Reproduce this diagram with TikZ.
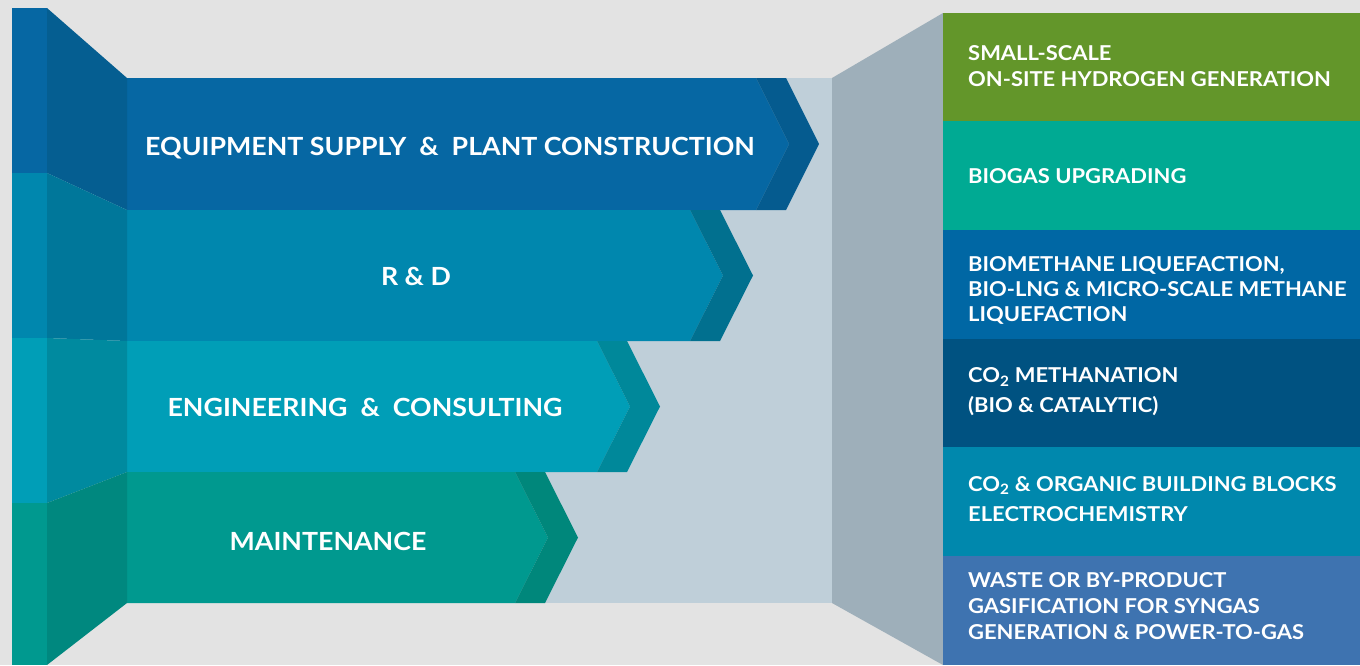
\documentclass[tikz,border=0pt]{standalone}
\usepackage{fontspec}
\setmainfont{Lato}
\newfontfamily\lblfont[FakeStretch=1.07]{Lato}
\definecolor{bg}{HTML}{E3E3E3}
\definecolor{wall}{HTML}{BFCFD9}
\definecolor{side}{HTML}{9EAFBA}
\definecolor{aL}{HTML}{0667A3}\definecolor{aD}{HTML}{055B8F}\definecolor{aP}{HTML}{055E91}
\definecolor{bL}{HTML}{0087AE}\definecolor{bD}{HTML}{01708F}\definecolor{bP}{HTML}{00779A}
\definecolor{cL}{HTML}{009EB7}\definecolor{cD}{HTML}{00889A}\definecolor{cP}{HTML}{008A9F}
\definecolor{dL}{HTML}{00998F}\definecolor{dD}{HTML}{00877B}\definecolor{dP}{HTML}{00887F}
\definecolor{r1}{HTML}{63962A}\definecolor{r2}{HTML}{00AA93}\definecolor{r3}{HTML}{0067A4}
\definecolor{r4}{HTML}{005281}\definecolor{r5}{HTML}{0088AD}\definecolor{r6}{HTML}{3E73B0}
\tikzset{
  lbl/.style={text=white,inner sep=0pt,font=\lblfont\bfseries\fontsize{25}{29}\selectfont},
  rlbl/.style={text=white,inner sep=0pt,anchor=west,align=left,font=\lblfont\bfseries\fontsize{20.5}{26}\selectfont},
}
\begin{document}
\begin{tikzpicture}[x=1pt,y=-1pt]
\useasboundingbox (0,0) rectangle (1360,665);
\fill[bg] (0,0) rectangle (1360,665);
% back wall and side wall
\fill[wall] (127,78) rectangle (832,603);
\fill[side] (832,78) -- (943,13) -- (943,665) -- (832,603) -- cycle;
% bar 1
\fill[aL] (127,78) -- (756,78) -- (789,144) -- (756,210) -- (127,210) -- cycle;
\fill[aD] (756,78) -- (786,78) -- (819,144) -- (786,210) -- (756,210) -- (789,144) -- cycle;
% bar 2
\fill[bL] (127,210) -- (690,210) -- (723,275.5) -- (690,341) -- (127,341) -- cycle;
\fill[bD] (690,210) -- (720,210) -- (753,275.5) -- (720,341) -- (690,341) -- (723,275.5) -- cycle;
% bar 3
\fill[cL] (127,341) -- (597,341) -- (630,406.5) -- (597,472) -- (127,472) -- cycle;
\fill[cD] (597,341) -- (627,341) -- (660,406.5) -- (627,472) -- (597,472) -- (630,406.5) -- cycle;
% bar 4
\fill[dL] (127,472) -- (515,472) -- (548,537.5) -- (515,603) -- (127,603) -- cycle;
\fill[dD] (515,472) -- (545,472) -- (578,537.5) -- (545,603) -- (515,603) -- (548,537.5) -- cycle;
% left slanted panel
\fill[aP] (47,8) -- (127,78) -- (127,210) -- (47,173) -- cycle;
\fill[bP] (47,173) -- (127,210) -- (127,341) -- (47,338) -- cycle;
\fill[cP] (47,338) -- (127,341) -- (127,472) -- (47,503) -- cycle;
\fill[dP] (47,503) -- (127,472) -- (127,603) -- (47,665) -- cycle;
% left strip
\fill[aL] (12,8) rectangle (47,173);
\fill[bL] (12,173) rectangle (47,338);
\fill[cL] (12,338) rectangle (47,503);
\fill[dL] (12,503) rectangle (47,665);
% right boxes
\fill[r1] (943,13) rectangle (1360,121);
\fill[r2] (943,121) rectangle (1360,230);
\fill[r3] (943,230) rectangle (1360,339);
\fill[r4] (943,339) rectangle (1360,447);
\fill[r5] (943,447) rectangle (1360,556);
\fill[r6] (943,556) rectangle (1360,665);
% left labels
\node[lbl] (t1) at (450,148) {EQUIPMENT SUPPLY\ \ \&\ \ PLANT CONSTRUCTION};
\node[lbl] (t2) at (416,276) {R \& D};
\node[lbl] (t3) at (365,407) {ENGINEERING\ \ \&\ \ CONSULTING};
\node[lbl] (t4) at (328,541) {MAINTENANCE};
% right labels
\node[rlbl] (s1) at (968,66) {SMALL-SCALE\\ON-SITE HYDROGEN GENERATION};
\node[rlbl] (s2) at (968,176) {BIOGAS UPGRADING};
\node[rlbl,font=\lblfont\bfseries\fontsize{20.5}{25}\selectfont] (s3) at (968,290) {BIOMETHANE LIQUEFACTION,\\BIO-LNG \& MICRO-SCALE METHANE\\LIQUEFACTION};
\node[rlbl,font=\lblfont\bfseries\fontsize{20.5}{30}\selectfont] (s4) at (968,392) {CO\textsubscript{2} METHANATION\\(BIO \& CATALYTIC)};
\node[rlbl,font=\lblfont\bfseries\fontsize{20.5}{30}\selectfont] (s5) at (968,499) {CO\textsubscript{2} \& ORGANIC BUILDING BLOCKS\\ELECTROCHEMISTRY};
\node[rlbl] (s6) at (968,606) {WASTE OR BY-PRODUCT\\GASIFICATION FOR SYNGAS\\GENERATION \& POWER-TO-GAS};
\end{tikzpicture}
\end{document}
